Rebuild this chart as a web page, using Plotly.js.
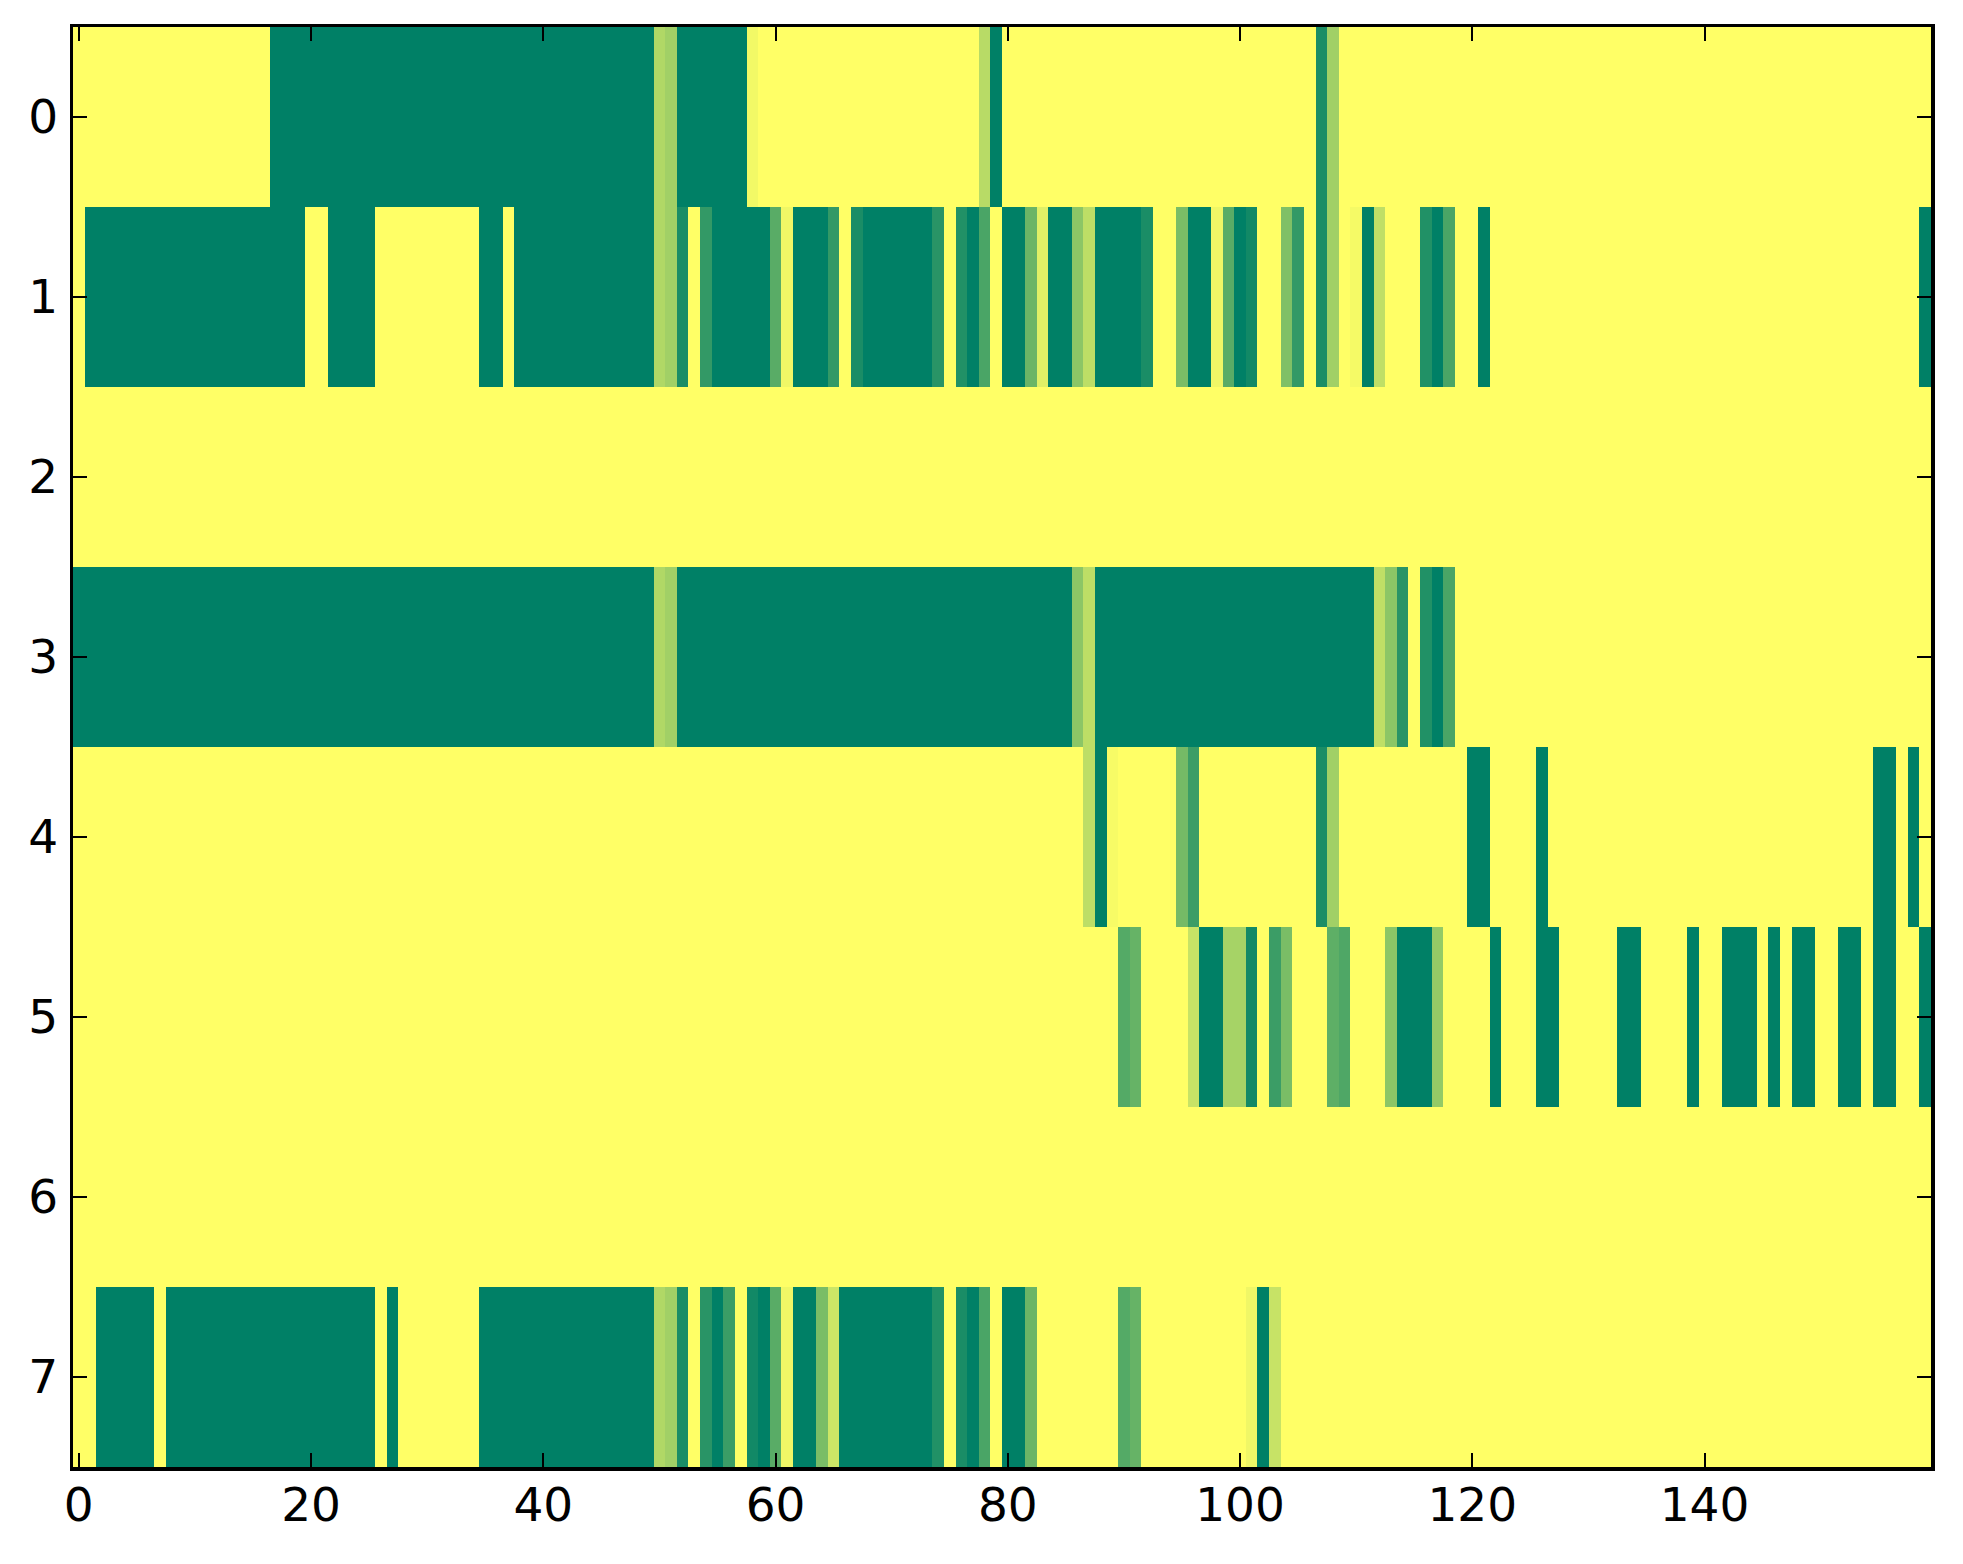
<!DOCTYPE html>
<html>
<head>
<meta charset="utf-8">
<script src="https://cdn.plot.ly/plotly-3.0.1.min.js"></script>
<style>
html,body{margin:0;padding:0;background:#fff;}
#chart{width:1963px;height:1564px;}
</style>
</head>
<body>
<div id="chart"></div>
<script>
const columns = Array.from({length:160}, (_, i) => i);
const rowLabels = [0,1,2,3,4,5,6,7];
const xTicks = [0,20,40,60,80,100,120,140];

const row0 = [
1,1,1,1,1,1,1,1,1,1,
1,1,1,1,1,1,1,0,0,0,
0,0,0,0,0,0,0,0,0,0,
0,0,0,0,0,0,0,0,0,0,
0,0,0,0,0,0,0,0,0,0,
.69,.63,0,0,0,0,0,0,.95,1,
1,1,1,1,1,1,1,1,1,1,
1,1,1,1,1,1,1,1,.72,0,
1,1,1,1,1,1,1,1,1,1,
1,1,1,1,1,1,1,1,1,1,
1,1,1,1,1,1,1,.1,.63,1,
1,1,1,1,1,1,1,1,1,1,
1,1,1,1,1,1,1,1,1,1,
1,1,1,1,1,1,1,1,1,1,
1,1,1,1,1,1,1,1,1,1,
1,1,1,1,1,1,1,1,1,1];

const row1 = [
1,0,0,0,0,0,0,0,0,0,
0,0,0,0,0,0,0,0,0,0,
1,1,0,0,0,0,1,1,1,1,
1,1,1,1,1,0,0,1,0,0,
0,0,0,0,0,0,0,0,0,0,
.69,.63,.1,1,.2,0,0,0,0,0,
.35,.94,0,0,0,.2,1,.1,0,0,
0,0,0,0,.16,1,.13,0,.29,1,
0,0,.42,.88,0,0,.55,.74,0,0,
0,0,.1,1,1,.48,0,0,.94,.35,
0,.07,1,1,.5,.2,1,.1,.63,1,
.96,0,.75,1,1,1,.13,0,.29,1,
1,0,1,1,1,1,1,1,1,1,
1,1,1,1,1,1,1,1,1,1,
1,1,1,1,1,1,1,1,1,1,
1,1,1,1,1,1,1,1,1,0];

const row2 = [
1,1,1,1,1,1,1,1,1,1,
1,1,1,1,1,1,1,1,1,1,
1,1,1,1,1,1,1,1,1,1,
1,1,1,1,1,1,1,1,1,1,
1,1,1,1,1,1,1,1,1,1,
1,1,1,1,1,1,1,1,1,1,
1,1,1,1,1,1,1,1,1,1,
1,1,1,1,1,1,1,1,1,1,
1,1,1,1,1,1,1,1,1,1,
1,1,1,1,1,1,1,1,1,1,
1,1,1,1,1,1,1,1,1,1,
1,1,1,1,1,1,1,1,1,1,
1,1,1,1,1,1,1,1,1,1,
1,1,1,1,1,1,1,1,1,1,
1,1,1,1,1,1,1,1,1,1,
1,1,1,1,1,1,1,1,1,1];

const row3 = [
0,0,0,0,0,0,0,0,0,0,
0,0,0,0,0,0,0,0,0,0,
0,0,0,0,0,0,0,0,0,0,
0,0,0,0,0,0,0,0,0,0,
0,0,0,0,0,0,0,0,0,0,
.69,.63,0,0,0,0,0,0,0,0,
0,0,0,0,0,0,0,0,0,0,
0,0,0,0,0,0,0,0,0,0,
0,0,0,0,0,0,.55,.74,0,0,
0,0,0,0,0,0,0,0,0,0,
0,0,0,0,0,0,0,0,0,0,
0,0,.75,.55,.16,1,.13,0,.29,1,
1,1,1,1,1,1,1,1,1,1,
1,1,1,1,1,1,1,1,1,1,
1,1,1,1,1,1,1,1,1,1,
1,1,1,1,1,1,1,1,1,1];

const row4 = [
1,1,1,1,1,1,1,1,1,1,
1,1,1,1,1,1,1,1,1,1,
1,1,1,1,1,1,1,1,1,1,
1,1,1,1,1,1,1,1,1,1,
1,1,1,1,1,1,1,1,1,1,
1,1,1,1,1,1,1,1,1,1,
1,1,1,1,1,1,1,1,1,1,
1,1,1,1,1,1,1,1,1,1,
1,1,1,1,1,1,1,.74,0,.97,
1,1,1,1,1,.46,.23,1,1,1,
1,1,1,1,1,1,1,.1,.63,1,
1,1,1,1,1,1,1,1,1,1,
0,0,1,1,1,1,0,1,1,1,
1,1,1,1,1,1,1,1,1,1,
1,1,1,1,1,1,1,1,1,1,
1,1,1,1,1,0,0,1,0,1];

const row5 = [
1,1,1,1,1,1,1,1,1,1,
1,1,1,1,1,1,1,1,1,1,
1,1,1,1,1,1,1,1,1,1,
1,1,1,1,1,1,1,1,1,1,
1,1,1,1,1,1,1,1,1,1,
1,1,1,1,1,1,1,1,1,1,
1,1,1,1,1,1,1,1,1,1,
1,1,1,1,1,1,1,1,1,1,
1,1,1,1,1,1,1,1,1,1,
.33,.4,1,1,1,1,.78,0,0,.65,
.65,.07,1,.23,.48,1,1,1,.37,.31,
1,1,1,.55,0,0,0,.58,1,1,
1,1,0,1,1,1,0,0,1,1,
1,1,1,0,0,1,1,1,1,0,
1,1,0,0,0,1,0,1,0,0,
1,1,0,0,1,0,0,1,1,0];

const row6 = [
1,1,1,1,1,1,1,1,1,1,
1,1,1,1,1,1,1,1,1,1,
1,1,1,1,1,1,1,1,1,1,
1,1,1,1,1,1,1,1,1,1,
1,1,1,1,1,1,1,1,1,1,
1,1,1,1,1,1,1,1,1,1,
1,1,1,1,1,1,1,1,1,1,
1,1,1,1,1,1,1,1,1,1,
1,1,1,1,1,1,1,1,1,1,
1,1,1,1,1,1,1,1,1,1,
1,1,1,1,1,1,1,1,1,1,
1,1,1,1,1,1,1,1,1,1,
1,1,1,1,1,1,1,1,1,1,
1,1,1,1,1,1,1,1,1,1,
1,1,1,1,1,1,1,1,1,1,
1,1,1,1,1,1,1,1,1,1];

const row7 = [
1,1,0,0,0,0,0,1,0,0,
0,0,0,0,0,0,0,0,0,0,
0,0,0,0,0,0,1,0,1,1,
1,1,1,1,1,0,0,0,0,0,
0,0,0,0,0,0,0,0,0,0,
.69,.63,.1,1,.16,0,.23,1,.07,0,
.35,.94,0,0,.48,.8,0,0,0,0,
0,0,0,0,.13,1,.1,0,.29,1,
0,0,.42,1,1,1,1,1,1,1,
.33,.4,1,1,1,1,1,1,1,1,
1,.94,0,.78,1,1,1,1,1,1,
1,1,1,1,1,1,1,1,1,1,
1,1,1,1,1,1,1,1,1,1,
1,1,1,1,1,1,1,1,1,1,
1,1,1,1,1,1,1,1,1,1,
1,1,1,1,1,1,1,1,1,1];

const z = [row0, row1, row2, row3, row4, row5, row6, row7];

const trace = {
  type: 'heatmap',
  x: columns,
  y: rowLabels,
  z: z,
  zmin: 0, zmax: 1,
  colorscale: [[0, 'rgb(0,128,102)'], [1, 'rgb(255,255,102)']],
  showscale: false,
  zsmooth: false,
  hoverinfo: 'skip'
};

const axisCommon = {
  showgrid: false,
  zeroline: false,
  showline: true,
  linecolor: '#000',
  linewidth: 3.5,
  mirror: 'allticks',
  ticks: 'inside',
  ticklen: 14,
  tickwidth: 2,
  tickcolor: '#000',
  tickfont: {family: 'DejaVu Sans', size: 47, color: '#000'}
};

const layout = {
  width: 1963,
  height: 1564,
  margin: {l: 73, r: 32, t: 27, b: 97},
  paper_bgcolor: '#fff',
  plot_bgcolor: '#fff',
  showlegend: false,
  xaxis: Object.assign({}, axisCommon, {
    range: [-0.5, 159.5],
    tickmode: 'array',
    tickvals: xTicks,
    ticktext: xTicks.map(String),
    ticklabelstandoff: -6
  }),
  yaxis: Object.assign({}, axisCommon, {
    range: [7.5, -0.5],
    tickmode: 'array',
    tickvals: rowLabels,
    ticktext: rowLabels.map(String),
    ticklabelstandoff: 2
  })
};

Plotly.newPlot('chart', [trace], layout, {displayModeBar: false, staticPlot: true});
</script>
</body>
</html>
